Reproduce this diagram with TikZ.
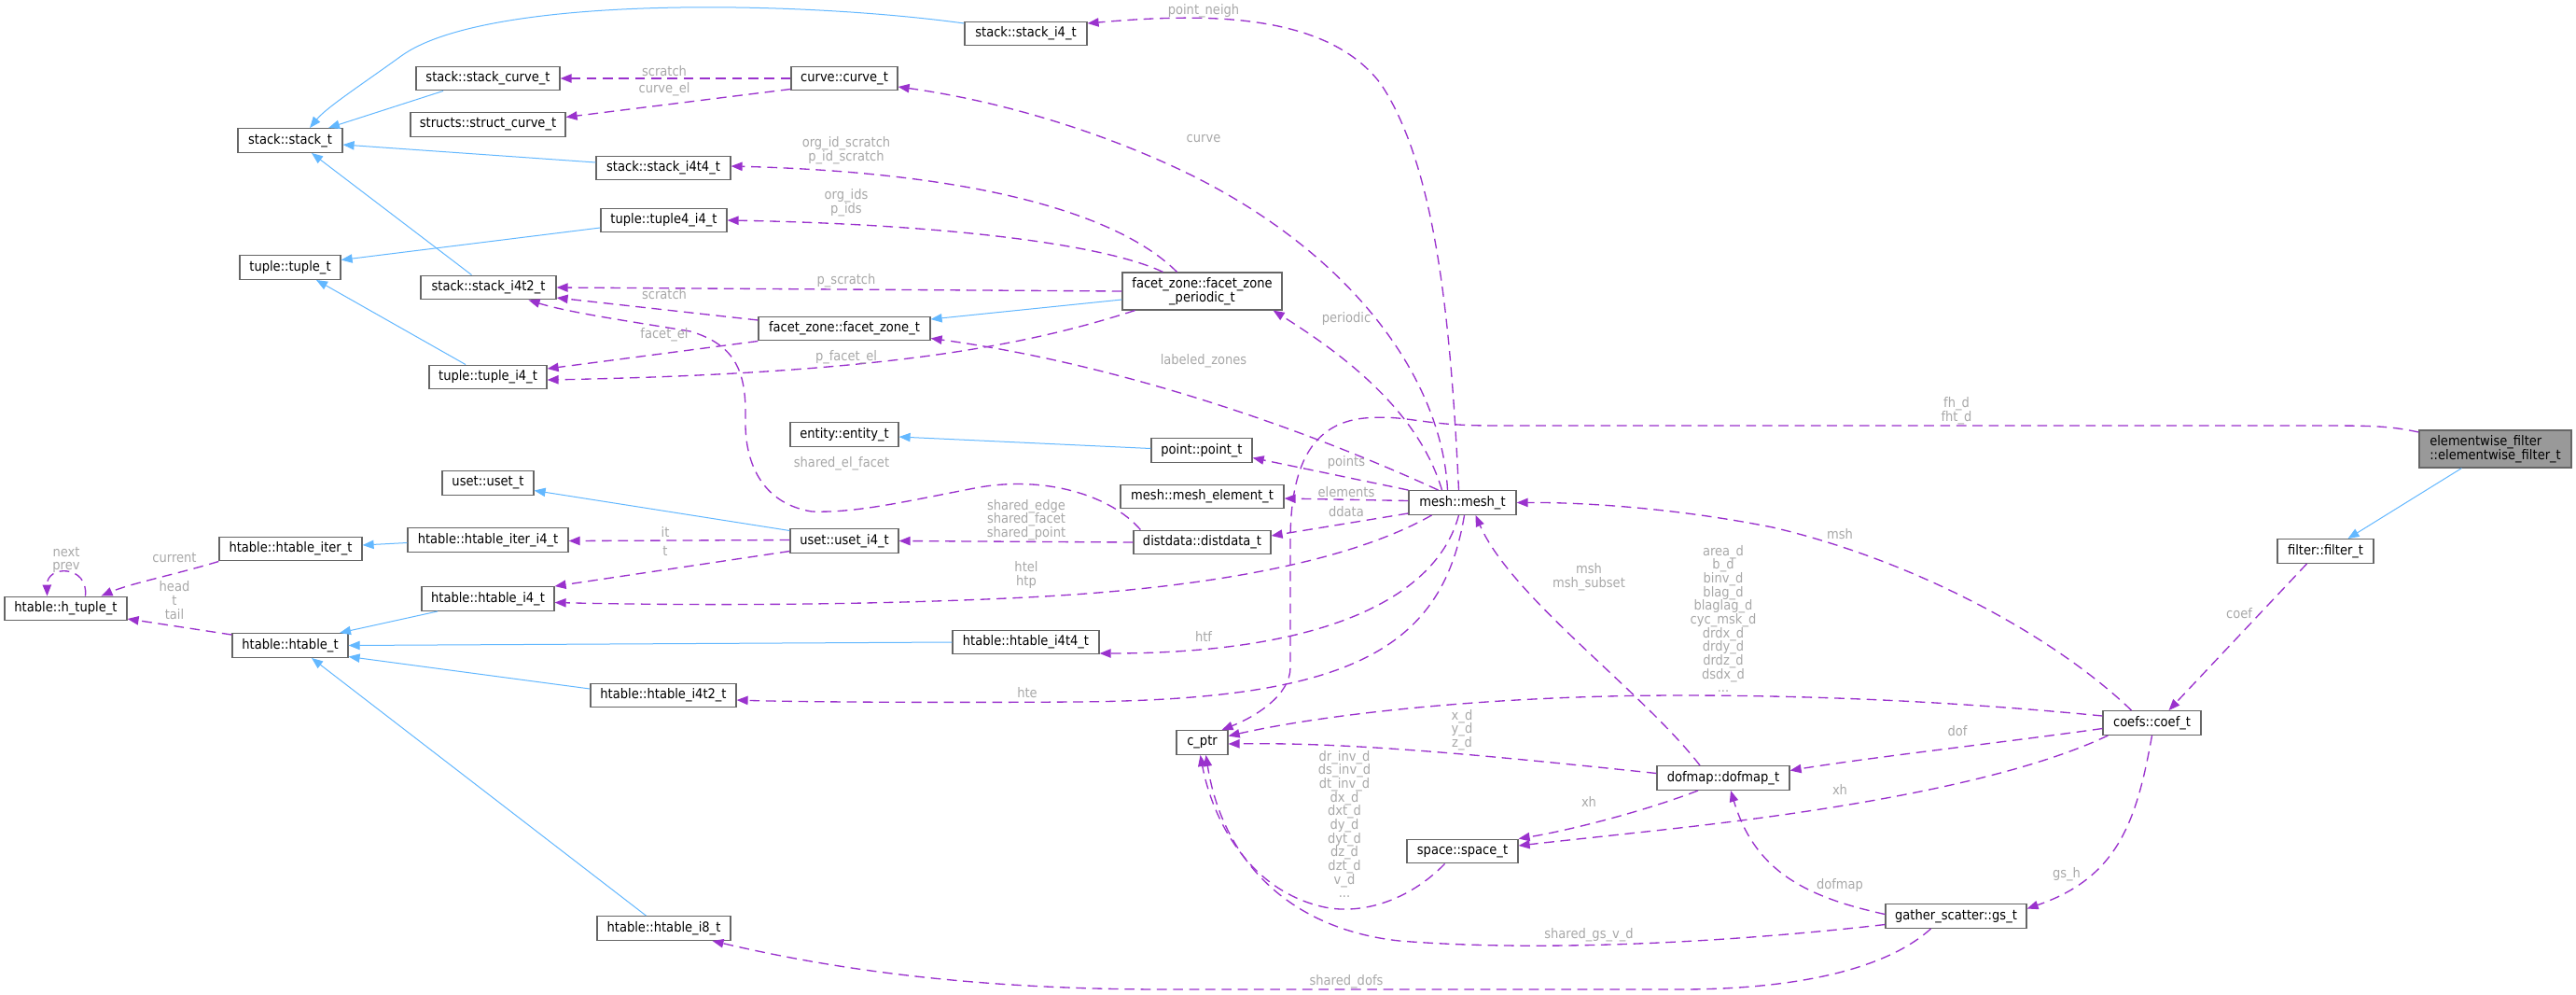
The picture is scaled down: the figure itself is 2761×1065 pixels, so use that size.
\documentclass[tikz,border=0pt]{standalone}
\usepackage{fontspec}
\setmainfont{DejaVu Sans Condensed}
\usetikzlibrary{arrows.meta,calc}
\definecolor{edgeP}{HTML}{9A32CD}
\definecolor{edgeB}{HTML}{63B8FF}
\definecolor{nodeB}{HTML}{666666}
\definecolor{nodeF}{HTML}{999999}
\definecolor{lblC}{HTML}{A8A8A8}
\begin{document}
\begin{tikzpicture}[x=0.75pt,y=-0.75pt,
 cls/.style={draw=nodeB, line width=0.9pt, fill=white, minimum height=19.3pt, inner sep=1.5pt, font=\fontsize{10.9}{11}\selectfont},
 wd/.style={minimum width=#1*0.75pt},
 inh/.style={draw=edgeB, line width=0.75pt, -{Triangle[length=9pt,width=7pt]}},
 usg/.style={draw=edgeP, line width=1pt, dash pattern=on 8pt off 5pt, -{Triangle[length=9pt,width=7pt]}},
 lbl/.style={text=lblC, font=\fontsize{10.9}{11}\selectfont, align=center, inner sep=0pt}
]
\fill[white] (0,0) rectangle (2761,1065);
\useasboundingbox (0,0) rectangle (2761,1065);

% nodes
\node[cls, wd=163, minimum height=30pt, fill=nodeF, align=left] (ef) at (2674.5,481) {elementwise\_filter\\::elementwise\_filter\_t};
\node[cls, wd=103] (filter) at (2492.5,590.5) {filter::filter\_t};
\node[cls, wd=105] (coef) at (2306.5,774.5) {coefs::coef\_t};
\node[cls, wd=151] (gs) at (2096.5,981.5) {gather\_scatter::gs\_t};
\node[cls, wd=142] (dofmap) at (1847,833.5) {dofmap::dofmap\_t};
\node[cls, wd=119] (space) at (1567.5,912) {space::space\_t};
\node[cls, wd=55] (cptr) at (1288.5,795.5) {c\_ptr};
\node[cls, wd=115] (mesh) at (1567.5,538.5) {mesh::mesh\_t};
\node[cls, wd=108] (point) at (1288,482.5) {point::point\_t};
\node[cls, wd=175] (meshel) at (1288.5,532) {mesh::mesh\_element\_t};
\node[cls, wd=147] (distdata) at (1288.5,581) {distdata::distdata\_t};
\node[cls, wd=116] (entity) at (905,465.5) {entity::entity\_t};
\node[cls, wd=116] (useti4) at (905,579.5) {uset::uset\_i4\_t};
\node[cls, wd=157] (htablei4t4) at (1099.5,688) {htable::htable\_i4t4\_t};
\node[cls, wd=171, minimum height=30pt, align=center] (fzp) at (1288.5,312) {facet\_zone::facet\_zone\\\_periodic\_t};
\node[cls, wd=184] (fz) at (905,352) {facet\_zone::facet\_zone\_t};
\node[cls, wd=114] (curve) at (905,84) {curve::curve\_t};
\node[cls, wd=131] (stacki4) at (1099.5,36) {stack::stack\_i4\_t};
\node[cls, wd=154] (stackcurve) at (523,84) {stack::stack\_curve\_t};
\node[cls, wd=166] (structcurve) at (523,133.5) {structs::struct\_curve\_t};
\node[cls, wd=112] (stack) at (311,150.5) {stack::stack\_t};
\node[cls, wd=144] (stacki4t4) at (711,180) {stack::stack\_i4t4\_t};
\node[cls, wd=135] (tuple4) at (711.5,236) {tuple::tuple4\_i4\_t};
\node[cls, wd=108] (tuple) at (311,286.5) {tuple::tuple\_t};
\node[cls, wd=145] (stacki4t2) at (523.5,308) {stack::stack\_i4t2\_t};
\node[cls, wd=126] (tuplei4) at (523,404) {tuple::tuple\_i4\_t};
\node[cls, wd=98] (uset) at (523,517.5) {uset::uset\_t};
\node[cls, wd=172] (iteri4) at (523,578.5) {htable::htable\_iter\_i4\_t};
\node[cls, wd=153] (iter) at (311.5,588) {htable::htable\_iter\_t};
\node[cls, wd=131] (htuple) at (70.5,652) {htable::h\_tuple\_t};
\node[cls, wd=142] (htablei4) at (523,641.5) {htable::htable\_i4\_t};
\node[cls, wd=124] (htable) at (311,691.5) {htable::htable\_t};
\node[cls, wd=156] (htablei4t2) at (711,745) {htable::htable\_i4t2\_t};
\node[cls, wd=143] (htablei8) at (711.5,994.5) {htable::htable\_i8\_t};

% inheritance
\draw[inh] ($(ef.south west)+(46,0)$) -- ($(filter.north)+(24,0)$);
\draw[inh] ($(stacki4.west)+(0,-11)$) .. controls (850,0) and (520,-5) .. (430,60) .. controls (390,89) and (350,115) .. ($(stack.north)+(21,0)$);
\draw[inh] ($(stackcurve.south)+(-48,0)$) -- ($(stack.north)+(41,0)$);
\draw[inh] ($(stacki4t4.west)+(0,-6)$) -- ($(stack.east)+(0,4.5)$);
\draw[inh] ($(stacki4t2.north)+(-18,0)$) -- ($(stack.south)+(23,0)$);
\draw[inh] ($(tuple4.west)+(0,8)$) -- ($(tuple.east)+(0,-8)$);
\draw[inh] ($(tuplei4.north)+(-24,0)$) -- ($(tuple.south)+(28,0)$);
\draw[inh] ($(fzp.west)+(0,9)$) -- ($(fz.east)+(0,-10)$);
\draw[inh] ($(point.west)+(0,-2)$) -- ($(entity.east)+(0,2.5)$);
\draw[inh] ($(useti4.west)+(0,-11)$) -- ($(uset.east)+(0,8)$);
\draw[inh] ($(iteri4.west)+(0,3)$) -- ($(iter.east)+(0,-4)$);
\draw[inh] ($(htablei4.south)+(-54,0)$) -- ($(htable.north)+(53,0)$);
\draw[inh] (htablei4t4.west) -- (htable.east);
\draw[inh] ($(htablei4t2.west)+(0,-7)$) -- ($(htable.east)+(0,12)$);
\draw[inh] ($(htablei8.north)+(-19,0)$) -- ($(htable.south)+(23,0)$);

% usage
\draw[usg] ($(ef.west)+(0,-18)$) .. controls (2560,456) and (2540,456) .. (2480,456) -- (1600,456) .. controls (1520,456) and (1510,444) .. (1462,448) .. controls (1405,454) and (1383,500) .. (1383,580) -- (1383,715) .. controls (1383,745) and (1345,768) .. ($(cptr.north)+(21,0)$);
\draw[usg] ($(filter.south)+(-20,0)$) -- ($(coef.north)+(18,0)$);
\draw[usg] ($(coef.north)+(-22,0)$) .. controls (2200,680) and (2050,600) .. (1900,565) .. controls (1800,545) and (1700,538) .. (mesh.east);
\draw[usg] ($(coef.west)+(0,-7.5)$) .. controls (2100,752) and (1950,745) .. (1800,745) .. controls (1600,745) and (1420,765) .. ($(cptr.east)+(0,-7)$);
\draw[usg] ($(coef.west)+(0,6)$) .. controls (2150,795) and (2000,812) .. ($(dofmap.east)+(0,-8)$);
\draw[usg] ($(coef.south west)+(6,0)$) .. controls (2150,840) and (1950,870) .. (1800,887) .. controls (1720,896) and (1680,900) .. ($(space.east)+(0,-6)$);
\draw[usg] (coef.south) .. controls (2290,880) and (2270,940) .. ($(gs.east)+(0,-8)$);
\draw[usg] ($(dofmap.west)+(0,-5)$) .. controls (1600,810) and (1450,795) .. ($(cptr.east)+(0,1.5)$);
\draw[usg] ($(dofmap.north)+(-25,0)$) .. controls (1760,740) and (1620,640) .. ($(mesh.south)+(14,0)$);
\draw[usg] ($(dofmap.south)+(-27,0)$) .. controls (1760,870) and (1680,890) .. (space.north east);
\draw[usg] ($(gs.west)+(0,-2)$) .. controls (1930,960) and (1880,930) .. ($(dofmap.south)+(8,0)$);
\draw[usg] ($(gs.west)+(0,9)$) .. controls (1850,1010) and (1650,1020) .. (1500,1008) .. controls (1380,995) and (1310,920) .. ($(cptr.south)+(4,0)$);
\draw[usg] ($(gs.south)+(-27,0)$) .. controls (2020,1040) and (1920,1060) .. (1800,1060) -- (1250,1060) .. controls (1050,1060) and (900,1040) .. ($(htablei8.south)+(52,0)$);
\draw[usg] ($(space.south)+(-19,0)$) .. controls (1510,965) and (1460,980) .. (1420,972) .. controls (1340,955) and (1300,880) .. ($(cptr.south)+(-2,0)$);
\draw[usg] ($(mesh.north)+(-4,0)$) .. controls (1555,350) and (1540,180) .. (1480,90) .. controls (1420,10) and (1280,15) .. ($(stacki4.east)+(0,-11)$);
\draw[usg] ($(mesh.north)+(-16,0)$) .. controls (1545,400) and (1440,260) .. (1250,175) .. controls (1150,130) and (1050,105) .. ($(curve.east)+(0,9)$);
\draw[usg] ($(mesh.north)+(-22,0)$) .. controls (1520,440) and (1440,380) .. ($(fzp.south east)+(-10,0)$);
\draw[usg] ($(mesh.north)+(-26,0)$) .. controls (1400,460) and (1200,390) .. ($(fz.south east)+(0,-3)$);
\draw[usg] (mesh.north west) -- ($(point.east)+(0,8)$);
\draw[usg] ($(mesh.west)+(0,-2)$) -- ($(meshel.east)+(0,2)$);
\draw[usg] ($(mesh.south west)+(0,-2)$) -- ($(distdata.east)+(0,-7)$);
\draw[usg] ($(mesh.south)+(-33,0)$) .. controls (1450,600) and (1300,630) .. (1100,640) .. controls (900,650) and (700,648) .. ($(htablei4.east)+(0,4)$);
\draw[usg] ($(mesh.south)+(-4,0)$) .. controls (1540,640) and (1420,700) .. ($(htablei4t4.east)+(0,12)$);
\draw[usg] ($(mesh.south)+(2,0)$) .. controls (1545,700) and (1440,750) .. (1150,752) .. controls (1000,753) and (850,752) .. ($(htablei4t2.east)+(0,5)$);
\draw[usg] (curve.west) -- (stackcurve.east);
\draw[usg] ($(curve.south west)+(0,-2)$) -- ($(structcurve.east)+(0,-8)$);
\draw[usg] ($(fzp.north)+(-27,0)$) .. controls (1200,230) and (1050,185) .. ($(stacki4t4.east)+(0,-2)$);
\draw[usg] ($(fzp.north)+(-42,0)$) .. controls (1180,260) and (1000,240) .. (tuple4.east);
\draw[usg] (fzp.west) -- (stacki4t2.east);
\draw[usg] ($(fzp.south west)+(14,0)$) .. controls (1100,370) and (950,400) .. ($(tuplei4.east)+(0,3)$);
\draw[usg] ($(fz.west)+(0,-9)$) -- ($(stacki4t2.east)+(0,11)$);
\draw[usg] (fz.south west) -- ($(tuplei4.east)+(0,-9)$);
\draw[usg] ($(distdata.north west)+(8,0)$) .. controls (1190,530) and (1120,510) .. (1050,522) .. controls (980,535) and (920,550) .. (870,548) .. controls (820,540) and (798,500) .. (799,450) .. controls (800,400) and (790,370) .. (740,355) .. controls (680,345) and (610,335) .. ($(stacki4t2.south)+(43,0)$);
\draw[usg] (distdata.west) -- (useti4.east);
\draw[usg] ($(useti4.west)+(0,-1)$) -- ($(iteri4.east)+(0,1)$);
\draw[usg] ($(useti4.west)+(0,11)$) -- (htablei4.north east);
\draw[usg] (iter.south west) .. controls (190,615) and (140,625) .. ($(htuple.north)+(38,0)$);
\draw[usg] ($(htable.north west)+(0,2)$) -- ($(htuple.east)+(0,11)$);
\draw[usg] ($(htuple.north)+(21,0)$) .. controls (95,605) and (50,605) .. ($(htuple.north)+(-20,0)$);

% labels
\node[lbl] (l1) at (2097,440) {fh\_d\\fht\_d};
\node[lbl] (l2) at (2400,657) {coef};
\node[lbl] (l3) at (1972,572) {msh};
\node[lbl] (l4) at (1847,663) {area\_d\\b\_d\\binv\_d\\blag\_d\\blaglag\_d\\cyc\_msk\_d\\drdx\_d\\drdy\_d\\drdz\_d\\dsdx\_d\\...};
\node[lbl] (l5) at (2098,783) {dof};
\node[lbl] (l6) at (1972,846) {xh};
\node[lbl] (l7) at (2215,937) {gs\_h};
\node[lbl] (l8) at (1567,782) {x\_d\\y\_d\\z\_d};
\node[lbl] (l9) at (1703,618) {msh\\msh\_subset};
\node[lbl] (l10) at (1703,859) {xh};
\node[lbl] (l11) at (1972,948) {dofmap};
\node[lbl] (l12) at (1703,1002) {shared\_gs\_v\_d};
\node[lbl] (l13) at (1443,1052) {shared\_dofs};
\node[lbl] (l14) at (1441,883) {dr\_inv\_d\\ds\_inv\_d\\dt\_inv\_d\\dx\_d\\dxt\_d\\dy\_d\\dyt\_d\\dz\_d\\dzt\_d\\v\_d\\...};
\node[lbl] (l15) at (1290,12) {point\_neigh};
\node[lbl] (l16) at (1290,149) {curve};
\node[lbl] (l17) at (1443,341) {periodic};
\node[lbl] (l18) at (1290,387) {labeled\_zones};
\node[lbl] (l19) at (1443,495) {points};
\node[lbl] (l20) at (1443,527) {elements};
\node[lbl] (l21) at (1443,548) {ddata};
\node[lbl] (l22) at (1100,616) {htel\\htp};
\node[lbl] (l23) at (1290,682) {htf};
\node[lbl] (l24) at (1101,742) {hte};
\node[lbl] (l25) at (712,76) {scratch};
\node[lbl] (l26) at (712,96) {curve\_el};
\node[lbl] (l27) at (907,161) {org\_id\_scratch\\p\_id\_scratch};
\node[lbl] (l28) at (907,217) {org\_ids\\p\_ids};
\node[lbl] (l29) at (907,301) {p\_scratch};
\node[lbl] (l30) at (907,383) {p\_facet\_el};
\node[lbl] (l31) at (712,315) {scratch};
\node[lbl] (l32) at (712,359) {facet\_el};
\node[lbl] (l33) at (902,497) {shared\_el\_facet};
\node[lbl] (l34) at (1100,557) {shared\_edge\\shared\_facet\\shared\_point};
\node[lbl] (l35) at (713,570) {it};
\node[lbl] (l36) at (713,590) {t};
\node[lbl] (l37) at (187,597) {current};
\node[lbl] (l38) at (187,643) {head\\t\\tail};
\node[lbl] (l39) at (71,600) {next\\prev};
\end{tikzpicture}
\end{document}
